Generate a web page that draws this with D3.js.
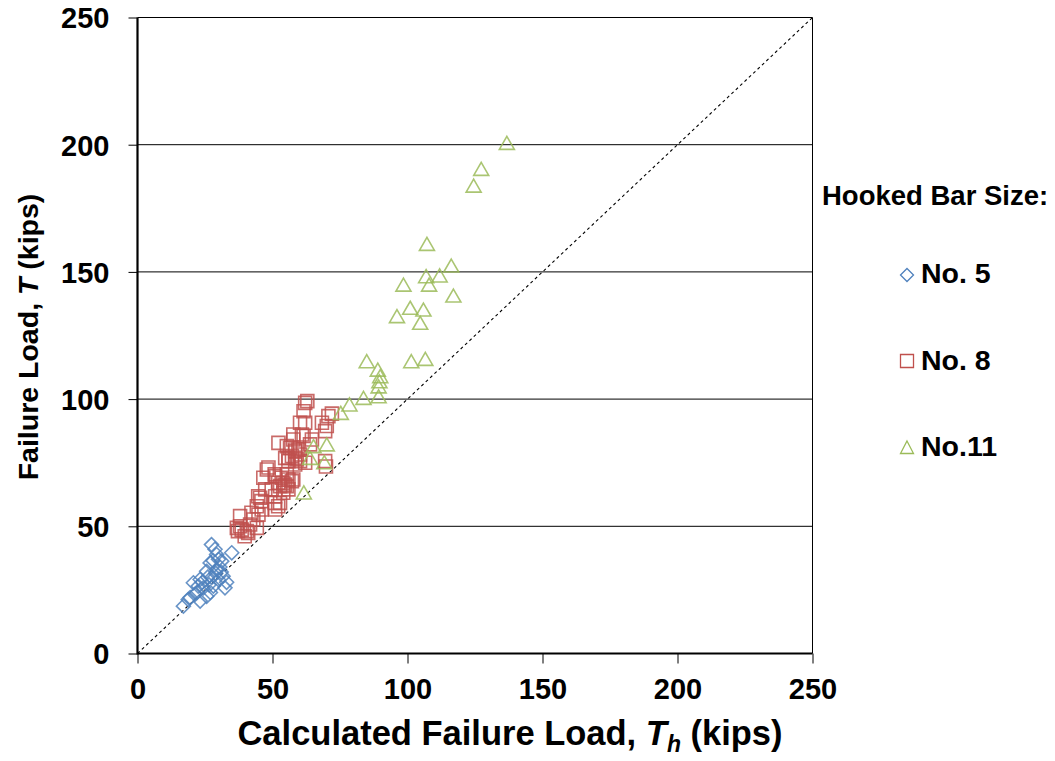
<!DOCTYPE html>
<html><head><meta charset="utf-8">
<script src="https://cdn.jsdelivr.net/npm/d3@7"></script>
<style>
body{margin:0;background:#fff;}
text{font-family:"Liberation Sans",Arial,sans-serif;font-weight:bold;fill:#000;}
</style></head>
<body><svg id="chart" width="1055" height="761"></svg>
<script>
const xTicks=[0,50,100,150,200,250];
const yTicks=[0,50,100,150,200,250];
const seriesNames=["No. 5","No. 8","No.11"];
const seriesColors=["#4F81BD","#C0504D","#9BBB59"];
const no5=[[27.4,42.8],[34.9,39.6],[29.3,38.9],[26.9,35.6],[31.2,36.3],[25.6,32.3],[29.3,33],[23.2,29.1],[27.5,29.9],[31.7,30.4],[20.7,27.8],[24.4,25.8],[28.1,26.5],[32.4,25.8],[21.3,23.2],[25.6,22.5],[18.8,21.2],[17,18.6],[23.2,20.6],[28.7,41],[30,37],[26,30],[22.5,26.5],[29,31.5],[30.5,34],[33,28],[27,24],[24,28],[26.5,27],[30,29],[19.5,22],[22,24],[28,36.5],[31,32]];
const no8=[[62.9,99.2],[62.1,98.5],[61.5,95.2],[60.2,90.7],[62.1,90.7],[72,94.3],[70.7,93.3],[68.3,90.7],[70.1,89.4],[69.5,87.4],[57.7,86.1],[52.2,82.8],[60.9,86.1],[61.5,85.5],[57.7,84.1],[64.6,84.1],[63.9,82.2],[55.3,81.5],[56.5,80.9],[58.4,80.2],[59.6,80.2],[58.4,79.5],[54.7,76.9],[55.9,76.9],[57.2,77.6],[60.2,78.2],[58.4,76.9],[59,76.3],[60.2,75.6],[55.9,75.6],[58.4,74.3],[62.1,75],[69.5,75.6],[69.8,73.5],[47.9,72.3],[48.5,73.1],[51,69.7],[50.8,70.4],[53.4,69.1],[55.9,68.4],[55.3,70.4],[46.6,69.1],[52.8,65.8],[55.3,65.8],[57.2,67.7],[57.7,68.4],[54,67.1],[54.6,66.4],[52.1,67.1],[49.7,64.5],[47.3,64.5],[55.9,64.5],[54,63.2],[45.4,61.2],[51,61.8],[44.7,61.8],[52.8,59.2],[50.8,59.2],[45.9,59.9],[44.2,57.9],[46,56.6],[51,56.6],[52.1,57.9],[38,54],[44.8,54.6],[42.2,55.3],[42.9,52.7],[38,50],[41.7,50.7],[38.6,48.7],[44.2,49.4],[36.8,49.4],[40.5,48.1],[41,47.4],[39.7,46.1],[37.2,48.1]];
const no11=[[136.8,200.7],[127.3,190.5],[124.5,183.9],[107.2,161],[116.2,152.5],[111.9,148.6],[106.9,148.3],[108,145],[98.5,145],[117,140.7],[101,135.9],[105.9,135.2],[96.1,132.6],[104.7,130],[101.4,114.9],[106.6,115.8],[84.9,114.9],[89,111.6],[89.9,109],[89.6,107],[89.3,105],[83.7,100.5],[89.3,101.1],[78.5,97.9],[75.3,94.6],[65.2,81.5],[70.1,82.2],[63.9,76.9],[69.2,75.2],[61.6,63.3]];

const svg=d3.select("#chart");
const L=137.5,R=812.5,T=17.5,B=653.5;
const x=d3.scaleLinear().domain([0,250]).range([L,R]);
const y=d3.scaleLinear().domain([0,250]).range([B,T]);

// gridlines
svg.append("g").selectAll("line").data(yTicks.filter(d=>d>0)).join("line")
  .attr("x1",L).attr("x2",R).attr("y1",d=>y(d)).attr("y2",d=>y(d))
  .attr("stroke","#000").attr("stroke-width",1);
// right border
svg.append("line").attr("x1",R).attr("x2",R).attr("y1",T).attr("y2",B).attr("stroke","#000").attr("stroke-width",1);

// diagonal
svg.append("line").attr("x1",x(0)).attr("y1",y(0)).attr("x2",x(250)).attr("y2",y(250))
  .attr("stroke","#000").attr("stroke-width",1.1).attr("stroke-dasharray","3,3");

// axes
const xAxis=svg.append("g").attr("transform",`translate(0,${B})`)
  .call(d3.axisBottom(x).tickValues(xTicks).tickSize(10).tickPadding(15).tickFormat(d3.format("d")));
const yAxis=svg.append("g").attr("transform",`translate(${L},0)`)
  .call(d3.axisLeft(y).tickValues(yTicks).tickSize(9).tickPadding(19).tickFormat(d3.format("d")));
[xAxis,yAxis].forEach(g=>{
  g.select(".domain").attr("stroke","#000").attr("stroke-width",2.2);
  g.selectAll(".tick line").attr("stroke","#000").attr("stroke-width",1);
  g.selectAll(".tick text").attr("font-size",29).attr("font-family","Liberation Sans, Arial, sans-serif").attr("font-weight","bold").attr("fill","#000");
});
xAxis.select(".domain").attr("d",`M${L},0H${R}`);
yAxis.select(".domain").attr("d",`M0,${T}V${B+1}`);
yAxis.selectAll(".tick text").attr("dy","0.36em");

// markers
const symFns=[
  (cx,cy)=>`M${cx},${cy-7}L${cx+7},${cy}L${cx},${cy+7}L${cx-7},${cy}Z`,
  (cx,cy)=>`M${cx-6.5},${cy-6.5}h13v13h-13Z`,
  (cx,cy)=>`M${cx},${cy-6.5}L${cx+7.5},${cy+6.5}L${cx-7.5},${cy+6.5}Z`
];
[no5,no8,no11].forEach((data,i)=>{
  svg.append("g").selectAll("path").data(data).join("path")
    .attr("d",d=>symFns[i](x(d[0]),y(d[1])))
    .attr("fill","none").attr("stroke",seriesColors[i]).attr("stroke-width",1.6).attr("stroke-opacity",0.85);
});

// axis titles
const xt=svg.append("text").attr("x",510).attr("y",745).attr("text-anchor","middle").attr("font-size",34.5);
xt.append("tspan").text("Calculated Failure Load, ");
xt.append("tspan").attr("font-style","italic").text("T");
xt.append("tspan").attr("font-style","italic").attr("font-size",23).attr("dy",7).text("h");
xt.append("tspan").attr("dy",-7).text(" (kips)");

const yt=svg.append("text").attr("transform","translate(38,337) rotate(-90)").attr("text-anchor","middle").attr("font-size",28.5);
yt.append("tspan").text("Failure Load, ");
yt.append("tspan").attr("font-style","italic").text("T");
yt.append("tspan").text(" (kips)");

// legend
svg.append("text").attr("x",822).attr("y",205).attr("font-size",27.5).text("Hooked Bar Size:");
const legY=[275,361,447];
const legBase=[283,370,456];
const legSym=[
  (cx,cy)=>`M${cx},${cy-6.5}L${cx+6.5},${cy}L${cx},${cy+6.5}L${cx-6.5},${cy}Z`,
  (cx,cy)=>`M${cx-6.5},${cy-6.5}h13v13h-13Z`,
  (cx,cy)=>`M${cx},${cy-6}L${cx+6.5},${cy+6.5}L${cx-6.5},${cy+6.5}Z`
];
seriesNames.forEach((n,i)=>{
  svg.append("path").attr("d",legSym[i](907,legY[i])).attr("fill","none").attr("stroke",seriesColors[i]).attr("stroke-width",1.3);
  svg.append("text").attr("x",921).attr("y",legBase[i]).attr("font-size",28.5).text(n);
});
</script></body></html>
